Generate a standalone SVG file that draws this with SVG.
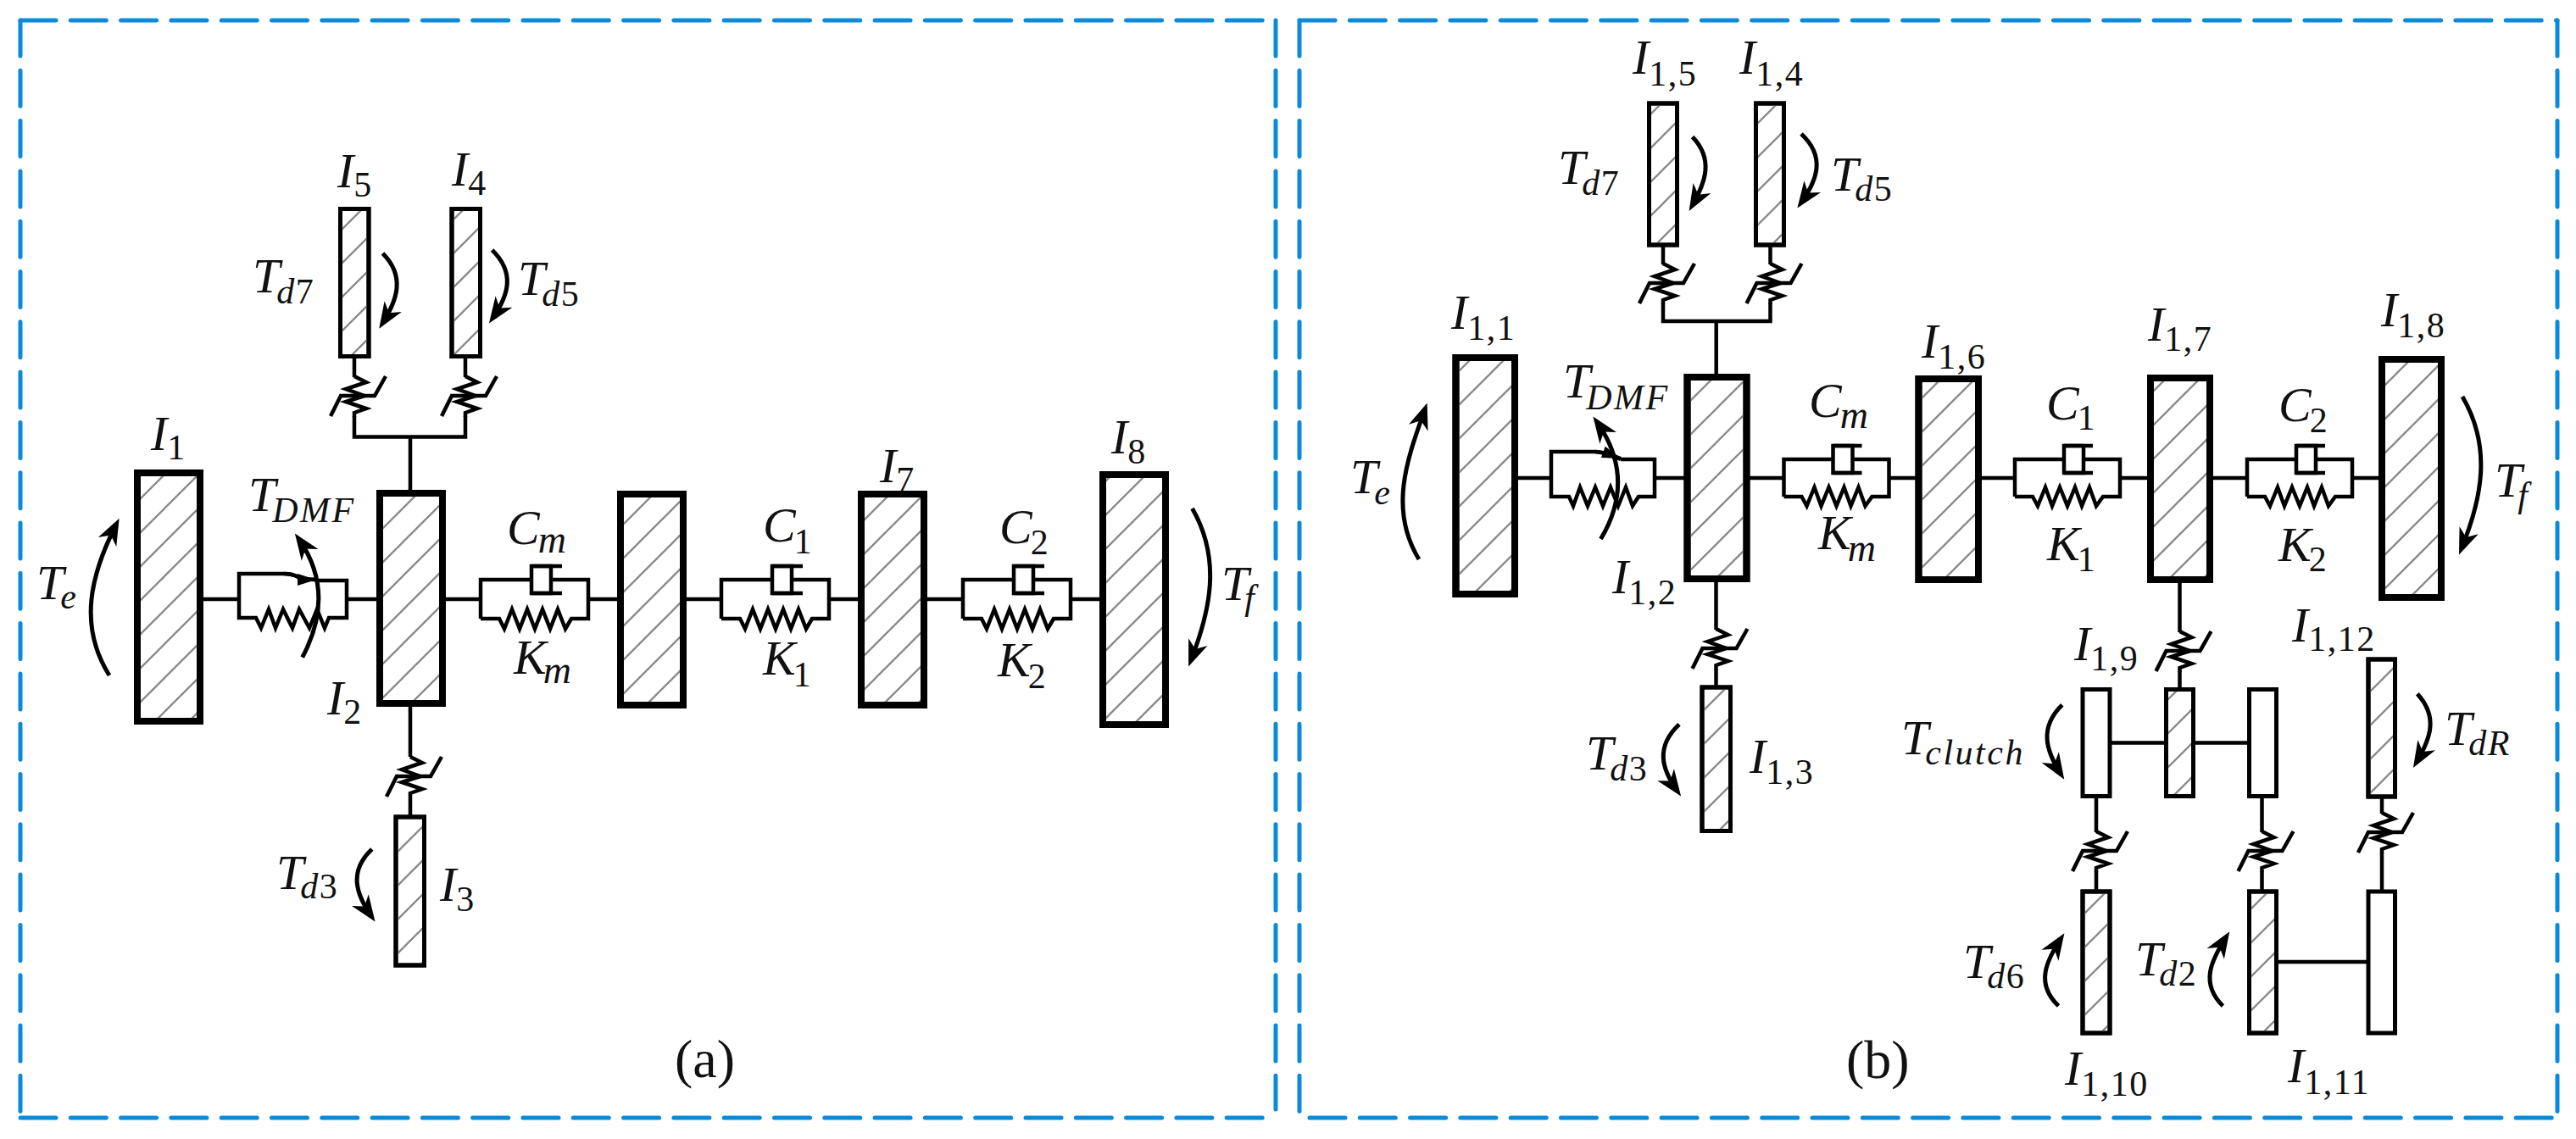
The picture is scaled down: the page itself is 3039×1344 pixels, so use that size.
<svg xmlns="http://www.w3.org/2000/svg" width="3039" height="1344" viewBox="0 0 3039 1344">
<style>
.fr{fill:none;stroke:#0a8ad8;stroke-width:5;stroke-dasharray:42 17.3;stroke-linecap:round}
.ln{fill:none;stroke:#000;stroke-width:4.5;stroke-linejoin:miter}
.thick{fill:#fff;stroke:#000;stroke-width:8}
.thin{fill:#fff;stroke:#000;stroke-width:5}
.over{fill:none;stroke:#000}
.h{fill:url(#hatch);stroke:none}
.arr{fill:none;stroke:#000;stroke-width:5;marker-end:url(#head)}
.sm{fill:none;stroke:#000;stroke-width:4.5;marker-end:url(#smhead)}
text{font-family:"Liberation Serif","Times New Roman",serif;fill:#111}
.v{font-size:58px;font-style:italic}
.s{font-size:42px;font-style:normal;letter-spacing:1.5px}
.i{font-style:italic}
.cap{font-size:64px}
</style>
<defs>
<pattern id="hatch" patternUnits="userSpaceOnUse" width="40" height="40">
<path d="M-2 42L42 -2M-2 2L2 -2M38 42L42 38" fill="none" stroke="#8a8a8a" stroke-width="2.3"/>
</pattern>
<marker id="head" markerUnits="userSpaceOnUse" markerWidth="44" markerHeight="36" viewBox="-34 -18 44 36" refX="-8" refY="0" orient="auto">
<path d="M0 0L-31 -12L-22 0L-31 12Z" fill="#000"/>
</marker>
<marker id="smhead" markerUnits="userSpaceOnUse" markerWidth="34" markerHeight="24" viewBox="-28 -12 34 24" refX="0" refY="0" orient="auto">
<path d="M0 0L-22 -7L-22 7Z" fill="#000"/>
</marker>
<g id="ts" class="ln">
<path d="M0 -24L14 -17L-10 -9L12 -1L-10 6L14 14L0 19V24"/>
<path d="M-28 23L-16 -1H24L37 -24"/>
</g>
<g id="sdA">
<path class="ln" d="M0 46V0H60M83 0H127V46H107L100 58L91 35L82 58L73 35L64 58L55 35L46 58L37 35L28 58L22 46H0"/>
<rect class="ln" x="60" y="-16" width="23" height="32" fill="#fff" style="fill:#fff"/>
<path class="ln" d="M60 -16H96M60 16H96"/>
</g>
<g id="sdB">
<path class="ln" d="M0 44V0H58M81 0H124V44H104L96 55L88 33L79 55L71 33L62 55L53 33L44 55L36 33L27 55L21 44H0"/>
<rect class="ln" x="58" y="-16" width="23" height="32" style="fill:#fff"/>
<path class="ln" d="M58 -16H92M58 16H92"/>
</g>
</defs>
<rect width="3039" height="1344" fill="#fff"/>

<g id="frames">
<path class="fr" d="M24 24H1505"/><path class="fr" d="M24 24V1319"/><path class="fr" d="M24 1319H1499"/><path class="fr" d="M1505 24V1309"/>
<path class="fr" d="M1533 24H3017"/><path class="fr" d="M1533 24V1313"/><path class="fr" d="M1545 1319H3012"/><path class="fr" d="M3017 24V1312"/>
</g>

<g id="connectors">
<path class="ln" d="M238 707H282M411 707H446M523 707H567M693 707H730M808 707H851M978 707H1014M1092 707H1136M1263 707H1298"/>
<path class="ln" d="M418 421V445M418 491V515.5H549V491M549 445V421M484 515V580M484 833V893M484 941V963"/>
<path class="ln" d="M1790 564H1830M1954 564H1988M2063 564H2104M2228 564H2261M2336 564H2376M2500 564H2535M2609 564H2650M2774 564H2808"/>
<path class="ln" d="M1962 290V312M1962 358V379H2088.5V358M2088.5 312V290M2024.7 379V442M2024.5 686V743M2024.5 789V810"/>
<path class="ln" d="M2571.5 688V746M2571.5 792V812"/>
<path class="ln" d="M2491 876.5H2554M2589 876.5H2652M2473 942V982M2473 1028V1051M2668.5 942V982M2668.5 1028V1051M2810 942V960M2810 1006V1051M2687 1135H2793"/>
<use href="#ts" x="418" y="468"/><use href="#ts" x="549" y="468"/><use href="#ts" x="484" y="917"/>
<use href="#ts" x="1962" y="335"/><use href="#ts" x="2088.5" y="335"/><use href="#ts" x="2024.5" y="766"/>
<use href="#ts" x="2571.5" y="769"/><use href="#ts" x="2473" y="1005"/><use href="#ts" x="2668.5" y="1005"/><use href="#ts" x="2810" y="983"/>
</g>

<g id="dmf-a">
<path class="ln" d="M282 707V677H335Q345 677 352 681Q358 684 373 684M373 685H409V729H388L383 741L374 719L365 741L353 719L345 741L334 719L325 741L317 719L308 741L302 729H282V707"/>
<path class="sm" d="M335 677Q345 677 352 681Q358 684 373 684"/>
</g>
<g id="km-a"><use href="#sdA" x="567" y="684"/></g>
<g id="c1-a"><use href="#sdA" x="851" y="684"/></g>
<g id="c2-a"><use href="#sdA" x="1136" y="684"/></g>
<g id="dmf-b">
<path class="ln" d="M1830 564V533H1882Q1893 533 1912 542M1912 542H1952V586H1933L1926 597L1918 575L1909 597L1900 575L1891 597L1882 575L1873 597L1864 575L1856 597L1851 586H1830V564"/>
<path class="sm" d="M1882 533Q1893 534 1912 541"/>
</g>
<g id="km-b"><use href="#sdB" x="2104.5" y="542"/></g>
<g id="c1-b"><use href="#sdB" x="2377" y="542"/></g>
<g id="c2-b"><use href="#sdB" x="2651" y="542"/></g>

<g id="I1"><rect class="thick" x="162" y="558" width="74" height="293"/><rect class="h" transform="translate(34)" x="132" y="562" width="66" height="285"/><rect class="over" stroke-width="8" x="162" y="558" width="74" height="293"/>
<text class="v" x="178" y="531">I<tspan class="s" dy="11">1</tspan></text></g>
<g id="I2"><rect class="thick" x="448" y="582" width="74" height="248"/><rect class="h" transform="translate(35)" x="417" y="586" width="66" height="240"/><rect class="over" stroke-width="8" x="448" y="582" width="74" height="248"/>
<text class="v" x="386" y="843">I<tspan class="s" dy="11">2</tspan></text></g>
<g id="I-a6"><rect class="thick" x="732" y="583" width="74" height="249"/><rect class="h" transform="translate(34)" x="702" y="587" width="66" height="241"/><rect class="over" stroke-width="8" x="732" y="583" width="74" height="249"/></g>
<g id="I7"><text class="v" x="1038" y="569">I<tspan class="s" dy="11">7</tspan></text>
<rect class="thick" x="1016" y="583" width="74" height="249"/><rect class="h" transform="translate(33)" x="987" y="587" width="66" height="241"/><rect class="over" stroke-width="8" x="1016" y="583" width="74" height="249"/></g>
<g id="I8"><rect class="thick" x="1301" y="560" width="74" height="295"/><rect class="h" transform="translate(32)" x="1273" y="564" width="66" height="287"/><rect class="over" stroke-width="8" x="1301" y="560" width="74" height="295"/>
<text class="v" x="1311" y="535">I<tspan class="s" dy="12">8</tspan></text></g>
<g id="I5"><rect class="thin" x="401.5" y="246.5" width="33.5" height="174"/><rect class="h" transform="translate(34)" x="370" y="249" width="29" height="169"/><rect class="over" stroke-width="5" x="401.5" y="246.5" width="33.5" height="174"/>
<text class="v" x="398" y="221">I<tspan class="s" dy="11">5</tspan></text></g>
<g id="I4"><rect class="thin" x="533" y="246.5" width="33.5" height="174"/><rect class="h" transform="translate(34)" x="501.5" y="249" width="29" height="169"/><rect class="over" stroke-width="5" x="533" y="246.5" width="33.5" height="174"/>
<text class="v" x="533" y="219">I<tspan class="s" dy="11">4</tspan></text></g>
<g id="I3"><rect class="thin" x="467" y="964" width="33.5" height="175"/><rect class="h" transform="translate(34)" x="435.5" y="966.5" width="29" height="170"/><rect class="over" stroke-width="5" x="467" y="964" width="33.5" height="175"/>
<text class="v" x="519" y="1063">I<tspan class="s" dy="12">3</tspan></text></g>

<g id="Te-a"><path class="arr" d="M129 797C92 738 107 678 137 619"/><text class="v" x="43" y="707">T<tspan class="s i" dy="11" dx="-4">e</tspan></text></g>
<g id="Tf-a"><path class="arr" d="M1406.6 600C1441 660 1428 720 1405 779"/><text class="v" x="1441" y="708">T<tspan class="s i" dy="11" dx="-5">f</tspan></text></g>
<g id="TDMF-a"><path class="arr" d="M356.7 775.7Q397 700 352.5 636"/><text class="v" x="293" y="603">T<tspan class="s i" dy="13" dx="-4" style="letter-spacing:2.5px">DMF</tspan></text></g>
<g id="Td7-a"><path class="arr" d="M451.5 299C478.5 326 468.5 354 451.5 381"/><text class="v" x="298" y="345">T<tspan class="s" dy="13" dx="-4"><tspan class="i">d</tspan>7</tspan></text></g>
<g id="Td5-a"><path class="arr" d="M580.6 295C608 322 600 348 581.5 375"/><text class="v" x="611" y="348">T<tspan class="s" dy="13" dx="-4"><tspan class="i">d</tspan>5</tspan></text></g>
<g id="Td3-a"><path class="arr" d="M438.8 1002C411 1028 420 1055 438 1081"/><text class="v" x="326" y="1049">T<tspan class="s" dy="11" dx="-4"><tspan class="i">d</tspan>3</tspan></text></g>
<g id="labels-a">
<text class="v" x="598" y="642">C<tspan class="s i" dy="10" dx="-2" style="font-size:46px">m</tspan></text>
<text class="v" x="606" y="795">K<tspan class="s i" dy="11" dx="-4" style="font-size:46px">m</tspan></text>
<text class="v" x="900" y="639">C<tspan class="s" dy="14" dx="-2">1</tspan></text>
<text class="v" x="1179" y="641">C<tspan class="s" dy="13" dx="-2">2</tspan></text>
<text class="v" x="900" y="796">K<tspan class="s" dy="14" dx="-3">1</tspan></text>
<text class="v" x="1177" y="798">K<tspan class="s" dy="14" dx="-3">2</tspan></text>
<text class="cap" x="796" y="1271">(a)</text>
</g>

<g id="I11"><rect class="thick" x="1717.5" y="422" width="69.5" height="279"/><rect class="h" transform="translate(39)" x="1682.5" y="426" width="61.5" height="271"/><rect class="over" stroke-width="8" x="1717.5" y="422" width="69.5" height="279"/>
<text class="v" x="1712" y="388">I<tspan class="s" dy="13">1,1</tspan></text></g>
<g id="I12"><rect class="thick" x="1990.5" y="445" width="70" height="238"/><rect class="h" transform="translate(27)" x="1967.5" y="449" width="62" height="230"/><rect class="over" stroke-width="8" x="1990.5" y="445" width="70" height="238"/>
<text class="v" x="1902" y="700">I<tspan class="s" dy="13">1,2</tspan></text></g>
<g id="I16"><rect class="thick" x="2263.5" y="447" width="70.5" height="237"/><rect class="h" transform="translate(17)" x="2250.5" y="451" width="62.5" height="229"/><rect class="over" stroke-width="8" x="2263.5" y="447" width="70.5" height="237"/>
<text class="v" x="2267" y="422">I<tspan class="s" dy="13">1,6</tspan></text></g>
<g id="I17"><rect class="thick" x="2537" y="446" width="70" height="238"/><rect class="h" transform="translate(2)" x="2539" y="450" width="62" height="230"/><rect class="over" stroke-width="8" x="2537" y="446" width="70" height="238"/>
<text class="v" x="2534" y="402">I<tspan class="s" dy="12">1,7</tspan></text></g>
<g id="I18"><rect class="thick" x="2810" y="424" width="70" height="281"/><rect class="h" transform="translate(28)" x="2786" y="428" width="62" height="273"/><rect class="over" stroke-width="8" x="2810" y="424" width="70" height="281"/>
<text class="v" x="2809" y="385">I<tspan class="s" dy="13">1,8</tspan></text></g>
<g id="I15"><rect class="thin" x="1945.5" y="122" width="33" height="167"/><rect class="h" transform="translate(2)" x="1946" y="124.5" width="28" height="162"/><rect class="over" stroke-width="5" x="1945.5" y="122" width="33" height="167"/>
<text class="v" x="1926" y="87">I<tspan class="s" dy="14">1,5</tspan></text></g>
<g id="I14"><rect class="thin" x="2071.5" y="122" width="33" height="167"/><rect class="h" transform="translate(19)" x="2055" y="124.5" width="28" height="162"/><rect class="over" stroke-width="5" x="2071.5" y="122" width="33" height="167"/>
<text class="v" x="2052" y="87">I<tspan class="s" dy="14">1,4</tspan></text></g>
<g id="I13"><rect class="thin" x="2008" y="811" width="33.5" height="169.5"/><rect class="h" transform="translate(8)" x="2002.5" y="813.5" width="28.5" height="164.5"/><rect class="over" stroke-width="5" x="2008" y="811" width="33.5" height="169.5"/>
<text class="v" x="2064" y="912">I<tspan class="s" dy="13">1,3</tspan></text></g>
<g id="I19"><rect class="thin" x="2457" y="813.5" width="32" height="126"/>
<text class="v" x="2447" y="779">I<tspan class="s" dy="12">1,9</tspan></text></g>
<g id="I-b-mid"><rect class="thin" x="2555.5" y="813.5" width="32" height="126"/><rect class="h" transform="translate(23)" x="2535" y="816" width="27" height="121"/><rect class="over" stroke-width="5" x="2555.5" y="813.5" width="32" height="126"/></g>
<g id="I-b-top3"><rect class="thin" x="2653.5" y="813.5" width="32" height="126"/></g>
<g id="I112"><rect class="thin" x="2794" y="778" width="31.5" height="162"/><rect class="h" transform="translate(12)" x="2784.5" y="780.5" width="26.5" height="157"/><rect class="over" stroke-width="5" x="2794" y="778" width="31.5" height="162"/>
<text class="v" x="2704" y="757">I<tspan class="s" dy="11">1,12</tspan></text></g>
<g id="I110"><rect class="thin" x="2457" y="1052" width="32" height="167"/><rect class="h" transform="translate(17)" x="2442.5" y="1054.5" width="27" height="162"/><rect class="over" stroke-width="5" x="2457" y="1052" width="32" height="167"/>
<text class="v" x="2436" y="1280">I<tspan class="s" dy="13">1,10</tspan></text></g>
<g id="I-b-hatched-low"><rect class="thin" x="2653.5" y="1052" width="32" height="167"/><rect class="h" transform="translate(8)" x="2648" y="1054.5" width="27" height="162"/><rect class="over" stroke-width="5" x="2653.5" y="1052" width="32" height="167"/></g>
<g id="I111"><rect class="thin" x="2794" y="1052" width="31.5" height="167"/>
<text class="v" x="2699" y="1277">I<tspan class="s" dy="14">1,11</tspan></text></g>

<g id="Te-b"><path class="arr" d="M1674 660C1638 601 1660 542 1681 483"/><text class="v" x="1593" y="582">T<tspan class="s i" dy="13" dx="-4">e</tspan></text></g>
<g id="Tf-b"><path class="arr" d="M2905 468C2940 528 2928 588 2904 647"/><text class="v" x="2943" y="586">T<tspan class="s i" dy="12" dx="-5">f</tspan></text></g>
<g id="TDMF-b"><path class="arr" d="M1888.5 636Q1931 565 1884 498"/><text class="v" x="1844" y="469">T<tspan class="s i" dy="14" dx="-5" style="letter-spacing:2.5px">DMF</tspan></text></g>
<g id="Td7-b"><path class="arr" d="M1996.6 161.6C2022 188 2012 215 1996.6 242"/><text class="v" x="1838" y="217">T<tspan class="s" dy="13" dx="-4"><tspan class="i">d</tspan>7</tspan></text></g>
<g id="Td5-b"><path class="arr" d="M2125 158C2154 185 2144 212 2125 239"/><text class="v" x="2160" y="225">T<tspan class="s" dy="12" dx="-4"><tspan class="i">d</tspan>5</tspan></text></g>
<g id="Td3-b"><path class="arr" d="M1981 854.7C1953 881 1960 907 1978.5 933"/><text class="v" x="1871" y="908">T<tspan class="s" dy="13" dx="-4"><tspan class="i">d</tspan>3</tspan></text></g>
<g id="Tclutch"><path class="arr" d="M2432.8 831.8C2405 859 2414 886 2431 913"/><text class="v" x="2243" y="890">T<tspan class="s i" dy="12" dx="-4" style="letter-spacing:2.5px">clutch</tspan></text></g>
<g id="Td6"><path class="arr" d="M2428.5 1187C2401 1161 2414 1134 2431 1108"/><text class="v" x="2316" y="1154">T<tspan class="s" dy="12" dx="-4"><tspan class="i">d</tspan>6</tspan></text></g>
<g id="Td2"><path class="arr" d="M2622.4 1187C2595 1160 2609 1133 2626 1106"/><text class="v" x="2519" y="1151">T<tspan class="s" dy="12" dx="-4"><tspan class="i">d</tspan>2</tspan></text></g>
<g id="TdR"><path class="arr" d="M2851.8 818.8C2877 846 2867 872 2851 899"/><text class="v" x="2884" y="879">T<tspan class="s i" dy="12" dx="-4">dR</tspan></text></g>
<g id="labels-b">
<text class="v" x="2134" y="492">C<tspan class="s i" dy="13" dx="-2" style="font-size:46px">m</tspan></text>
<text class="v" x="2145" y="648">K<tspan class="s i" dy="14" dx="-4" style="font-size:46px">m</tspan></text>
<text class="v" x="2414" y="495">C<tspan class="s" dy="12" dx="-2">1</tspan></text>
<text class="v" x="2688" y="497">C<tspan class="s" dy="13" dx="-2">2</tspan></text>
<text class="v" x="2415" y="661">K<tspan class="s" dy="13" dx="-3">1</tspan></text>
<text class="v" x="2688" y="662">K<tspan class="s" dy="12" dx="-3">2</tspan></text>
<text class="cap" x="2178" y="1272">(b)</text>
</g>
</svg>
